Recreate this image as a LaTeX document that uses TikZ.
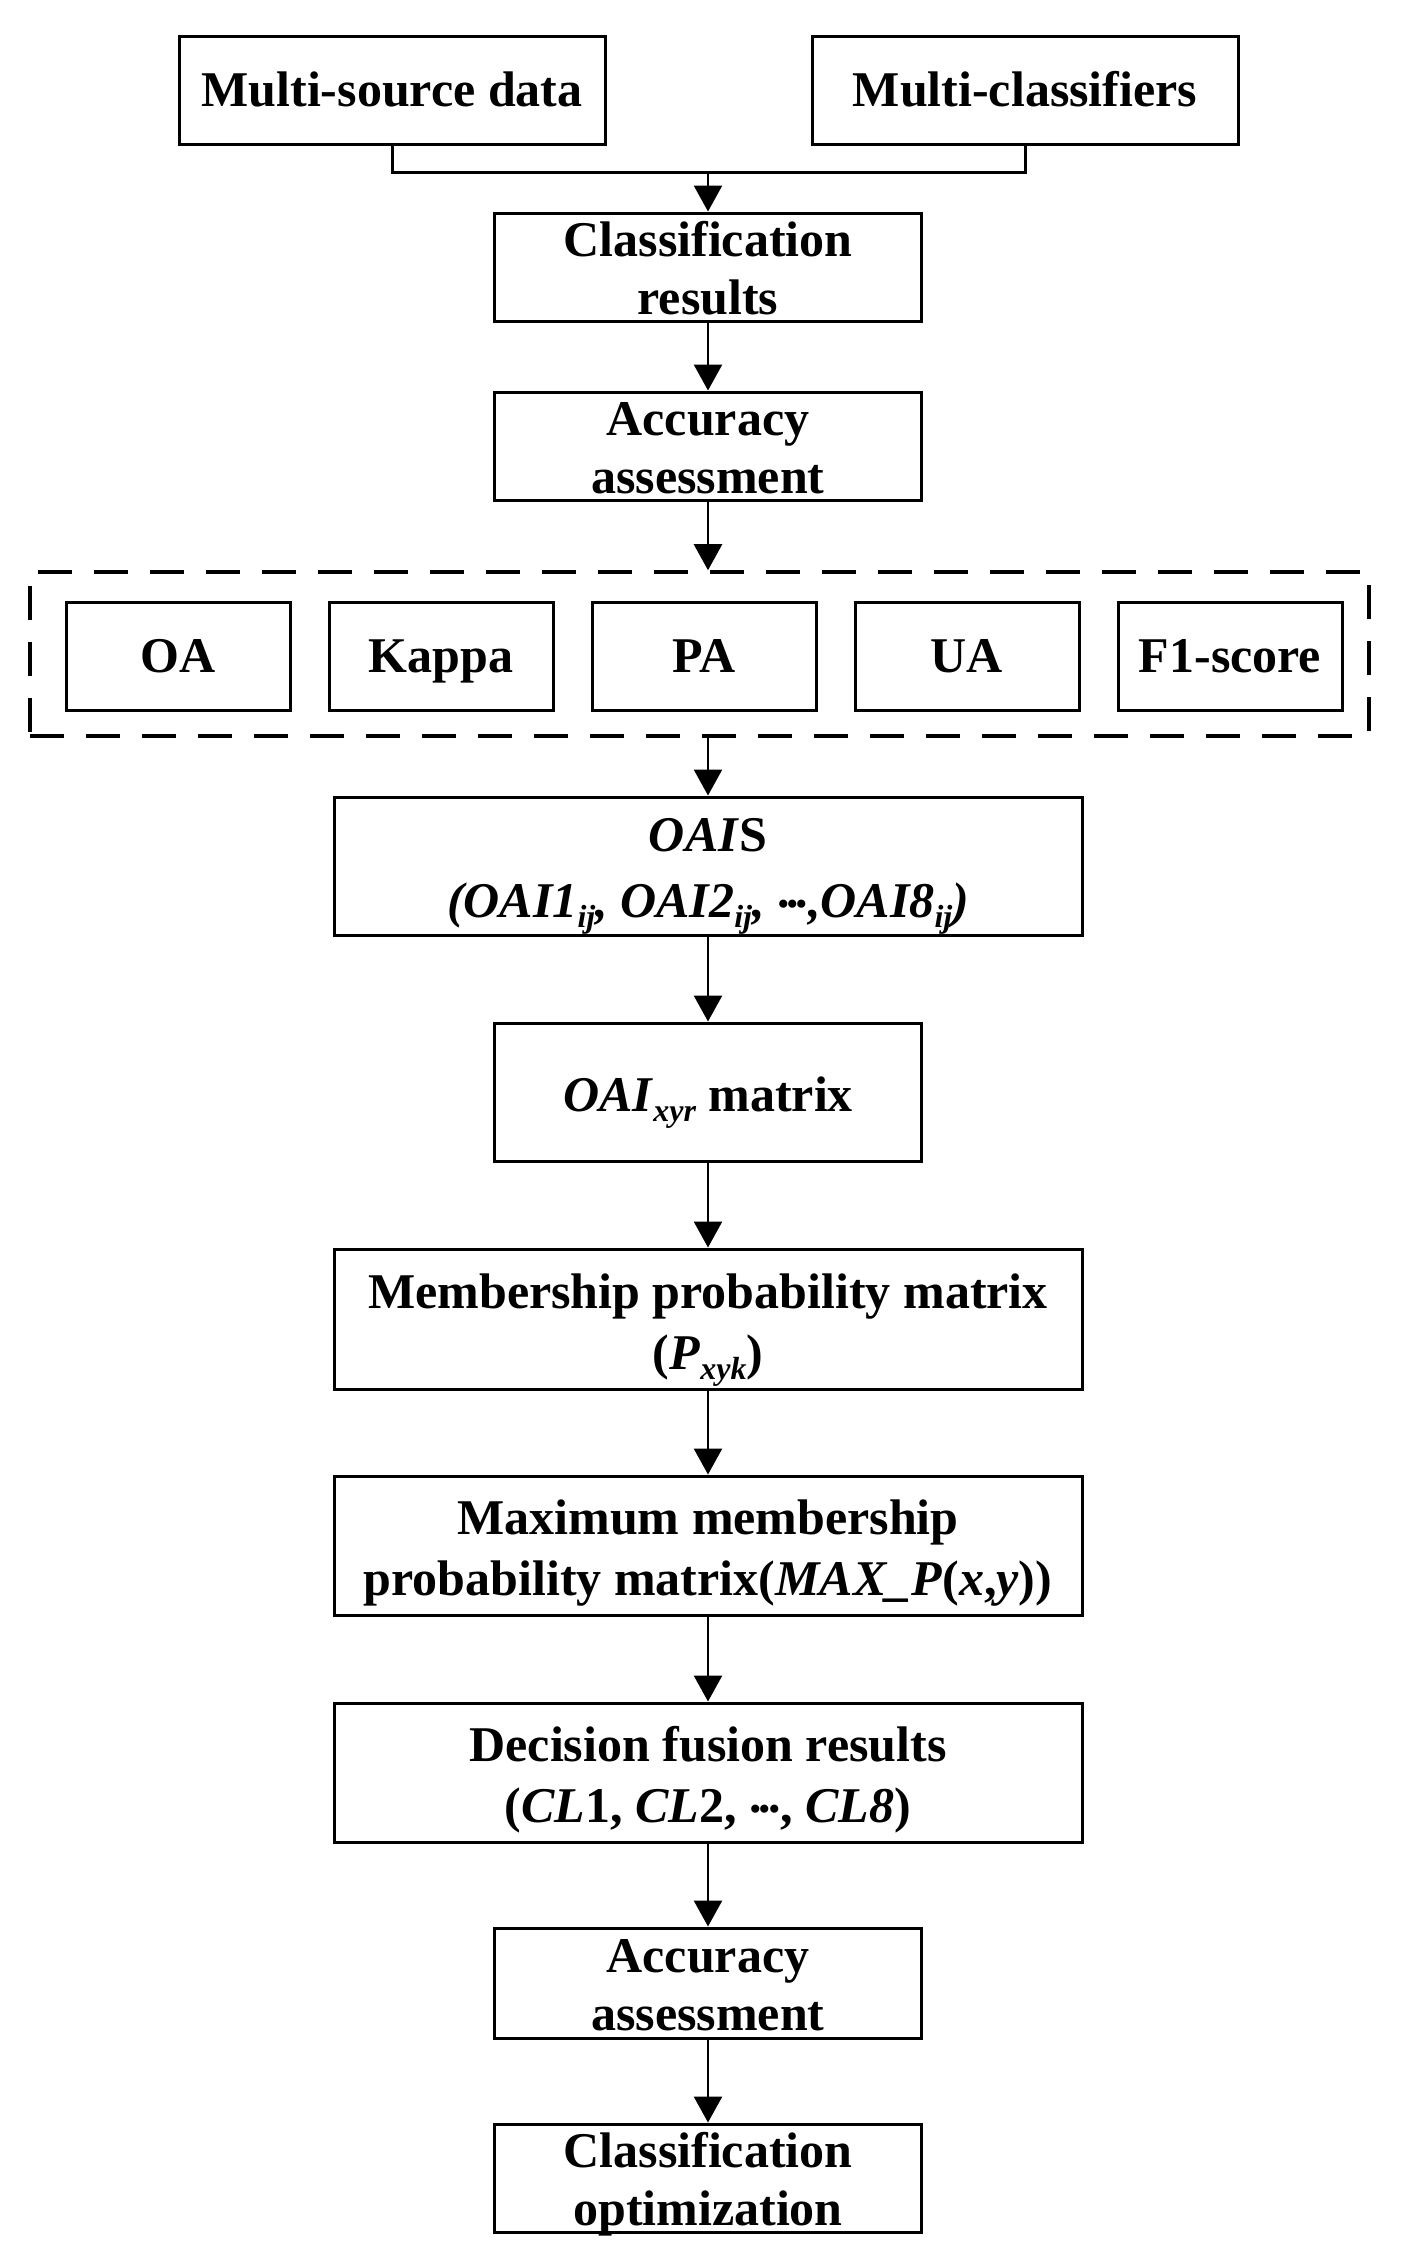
\documentclass[tikz,border=0pt]{standalone}
\usepackage{fontspec}
\setmainfont{Liberation Serif}
\usetikzlibrary{arrows.meta}
\newcommand\lsub[1]{\raisebox{-5pt}[0pt][0pt]{\fontsize{16}{16}\selectfont\itshape #1}}
\newcommand\mdots{\raisebox{5pt}{\upshape.\kern-1.6pt.\kern-1.6pt.}}
\begin{document}
\begin{tikzpicture}[x=0.5pt,y=-0.5pt,
  box/.style={draw, line width=1.5pt, inner sep=0pt, align=center,
    font=\bfseries\fontsize{25}{29}\selectfont, text depth=0pt, text height=16.5pt},
  two/.style={text height=47.5pt},
  nbox/.style={box, two, minimum width=213.5pt, minimum height=54pt},
  wbox/.style={box, minimum width=374pt, minimum height=69.5pt,
    font=\bfseries\fontsize{25}{30.5}\selectfont, text height=50pt},
  sbox/.style={box, minimum width=112pt, minimum height=54pt},
  grpbox/.style={draw, line width=1.8pt, dash pattern=on 17pt off 11pt, inner sep=0pt},
  arr/.style={line width=1.3pt, -{Triangle[length=13pt,width=14pt]}},
  link/.style={line width=1.5pt}]
\useasboundingbox (0,0) rectangle (1405,2267);

\node[box, minimum width=213pt, minimum height=54pt] (msd) at (392,90) {Multi-source data};
\node[box, minimum width=213pt, minimum height=54pt] (mc) at (1025,90) {Multi-classifiers};
\node[nbox] (cr) at (708,267) {Classification\\results};
\node[nbox] (aa1) at (708,446) {Accuracy\\assessment};

\node[grpbox, minimum width=669.5pt, minimum height=82pt] (grp) at (699.5,654) {};
\node[sbox] (oa) at (178,656) {OA};
\node[sbox] (kappa) at (441,656) {Kappa};
\node[sbox] (pa) at (704,656) {PA};
\node[sbox] (ua) at (967,656) {UA};
\node[sbox] (f1) at (1230,656) {F1-score};

\node[wbox, minimum height=69pt, font=\bfseries\fontsize{25}{33}\selectfont, text height=51.5pt] (oais) at (708,866)
  {\textit{OAI}S\\\textit{(OAI1\lsub{ij}, OAI2\lsub{ij}, \mdots,OAI8\lsub{ij})}};
\node[box, minimum width=213.5pt, minimum height=69pt, text height=19pt] (oai) at (708,1092) {\textit{OAI}\lsub{xyr} matrix};
\node[wbox, minimum height=70pt] (memb) at (708,1319) {Membership probability matrix\\(\textit{P}\lsub{xyk})};
\node[wbox] (max) at (708,1545.5) {Maximum membership\\probability matrix(\textit{MAX\_P}(\textit{x},\textit{y}))};
\node[wbox] (dec) at (708,1772.5) {Decision fusion results\\(\textit{CL}1, \textit{CL}2, \mdots, \textit{CL8})};
\node[nbox, minimum height=55pt] (aa2) at (708,1983) {Accuracy\\assessment};
\node[nbox] (co) at (708,2178) {Classification\\optimization};

\coordinate (j) at (708,172);
\draw[link] (msd.south) -- (msd.south |- j) -- (mc.south |- j) -- (mc.south);
\draw[arr] (j) -- (cr.north);
\draw[arr] (cr.south) -- (aa1.north);
\draw[arr] (aa1.south) -- (aa1.south |- grp.north);
\draw[arr] (oais.north |- grp.south) -- (oais.north);
\draw[arr] (oais.south) -- (oai.north);
\draw[arr] (oai.south) -- (memb.north);
\draw[arr] (memb.south) -- (max.north);
\draw[arr] (max.south) -- (dec.north);
\draw[arr] (dec.south) -- (aa2.north);
\draw[arr] (aa2.south) -- (co.north);
\end{tikzpicture}
\end{document}
